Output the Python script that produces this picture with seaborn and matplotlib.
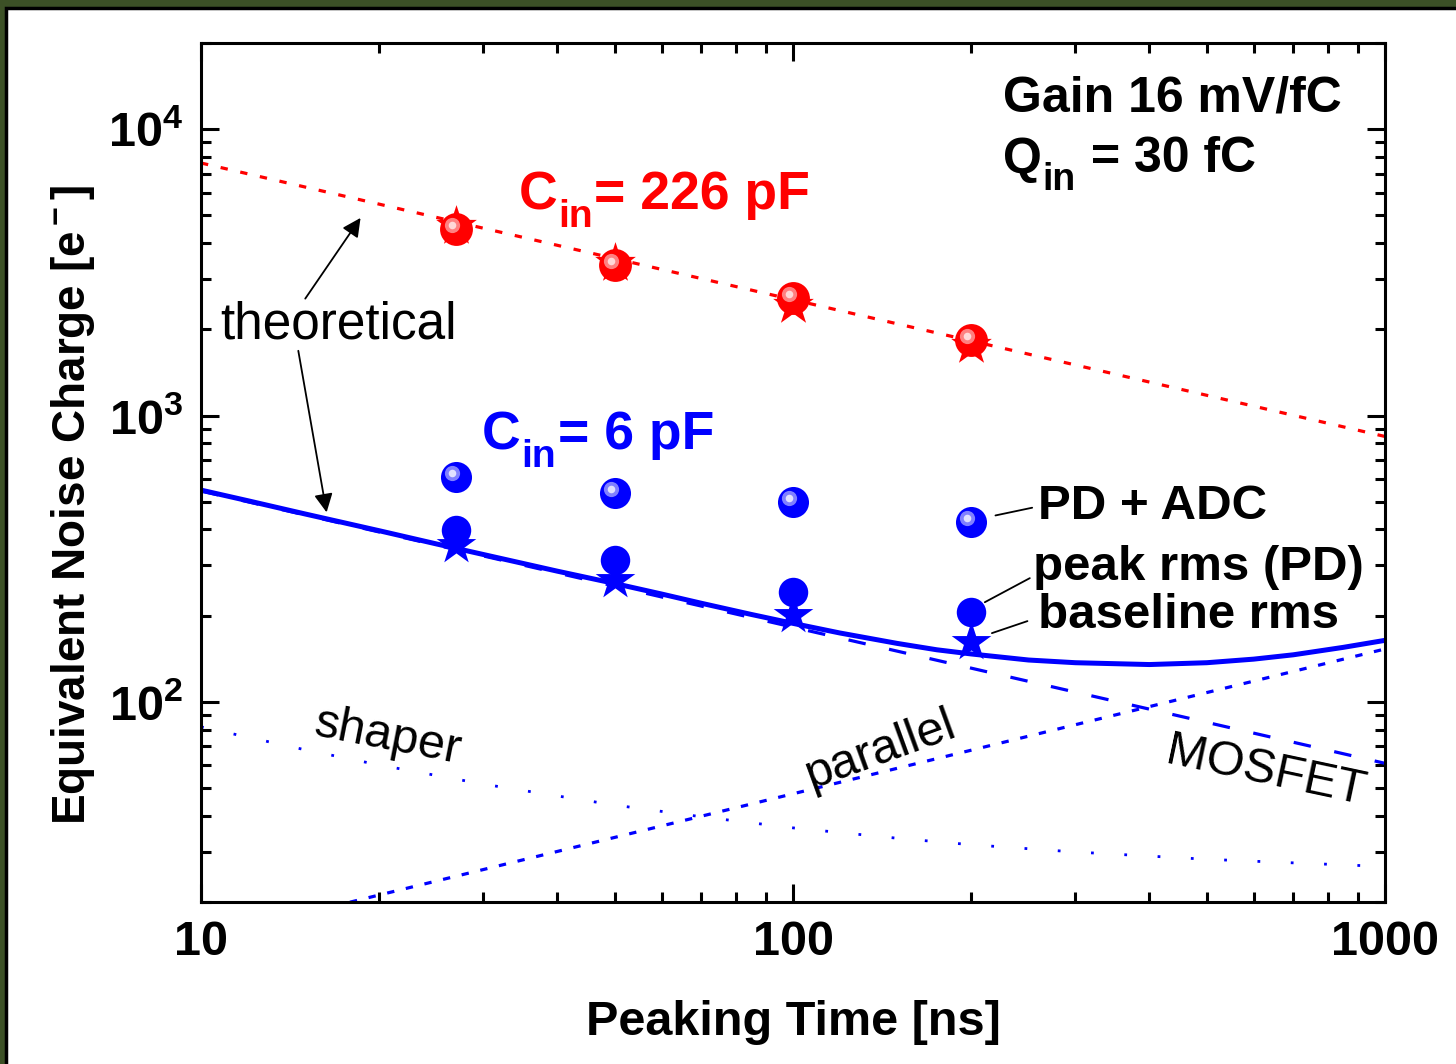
import matplotlib
matplotlib.use('Agg')
import matplotlib.pyplot as plt
import matplotlib.transforms as mtransforms
from matplotlib.patches import Rectangle
from matplotlib.ticker import FixedLocator, FixedFormatter, NullFormatter, LogLocator
import seaborn as sns

# measured points (peaking time in ns, ENC in electrons)
peak_times = [27, 50, 100, 200]

red_peak_rms = [4480, 3360, 2580, 1840]
red_baseline = [4600, 3400, 2440, 1770]

blue_pd_adc = [608, 535, 498, 424]
blue_peak_rms = [397, 312, 242, 206]
blue_baseline = [352, 266, 201, 162]

# theoretical curves
theo_red_t = [10, 1000]
theo_red = [7620, 845]

total_t = [10, 12, 15, 20, 25, 30, 40, 50, 60, 70, 85, 100, 120, 150, 175,
           200, 250, 300, 400, 500, 600, 700, 850, 1000]
theo_total = [549, 504, 453, 396, 356, 327, 286, 259, 238, 221, 202, 188, 174,
              160, 152, 147, 140, 137, 135, 137, 141, 146, 155, 164]

shaper_t = [10, 15, 20, 30, 50, 70, 100, 150, 200, 300, 500, 700, 1000]
theo_shaper = [81.8, 68, 60.2, 51.6, 43.6, 39.7, 36.3, 33.4, 31.7, 29.9, 28.2, 27.4, 26.6]

line_t = [10, 1000]
theo_mosfet = [545, 61]
theo_parallel = [14.9, 153]

x_ticks = [10, 100, 1000]
x_ticklabels = ['10', '100', '1000']
y_ticks = [100, 1000, 10000]
y_ticklabels = [r'$\mathbf{10^2}$', r'$\mathbf{10^3}$', r'$\mathbf{10^4}$']

RED = '#ff0000'
BLUE = '#0000ff'

sns.set_style('ticks')
plt.rcParams['font.family'] = ['Liberation Sans', 'DejaVu Sans']
plt.rcParams['mathtext.fontset'] = 'custom'
plt.rcParams['mathtext.rm'] = 'Liberation Sans'
plt.rcParams['mathtext.bf'] = 'Liberation Sans:bold'
plt.rcParams['mathtext.it'] = 'Liberation Sans:italic'
for key in ['text.color', 'axes.labelcolor', 'xtick.color', 'ytick.color']:
    plt.rcParams[key] = 'black'


def sub_text(ax, x, y, main, sub, rest, color='black', size=36, subsize=27):
    """Bold label with a big, low subscript (like C_in)."""
    t1 = ax.text(x, y, main, transform=ax.transAxes, fontsize=size,
                 fontweight='bold', color=color, va='baseline', ha='left')
    drop = 13  # points below main baseline
    d_main = 0.212 * size
    d_sub = 0.212 * subsize
    t2 = ax.annotate(sub, xy=(1, 0), xycoords=t1,
                     xytext=(1, d_main - drop), textcoords='offset points',
                     fontsize=subsize, fontweight='bold', color=color,
                     va='baseline', ha='left')
    ax.annotate(rest, xy=(1, 0), xycoords=t2,
                xytext=(1, drop + d_sub), textcoords='offset points',
                fontsize=size, fontweight='bold', color=color,
                va='baseline', ha='left')


fig = plt.figure(figsize=(14.56, 10.64), dpi=100)
fig.patch.set_facecolor('#3c5126')
fig.add_artist(Rectangle((6 / 1456, -0.05), 1.1, 1.05 - 8 / 1064,
                         transform=fig.transFigure, facecolor='white',
                         edgecolor='black', lw=2.5, zorder=-10))

ax = fig.add_axes([201 / 1456, 1 - 902 / 1064, 1184 / 1456, 859 / 1064])
ax.set_facecolor('white')
ax.set_xscale('log')
ax.set_yscale('log')
ax.set_xlim(10, 1000)
ax.set_ylim(20, 20000)

# theoretical lines
sns.lineplot(x=theo_red_t, y=theo_red, ax=ax, color=RED, lw=2.3,
             linestyle=(0, (2.3, 4.0)), sort=False, estimator=None)
sns.lineplot(x=shaper_t, y=theo_shaper, ax=ax, color=BLUE, lw=2.0,
             linestyle=(0, (1.0, 11.0)), sort=False, estimator=None)
sns.lineplot(x=line_t, y=theo_parallel, ax=ax, color=BLUE, lw=2.3,
             linestyle=(0, (2.3, 3.7)), sort=False, estimator=None)
sns.lineplot(x=line_t, y=theo_mosfet, ax=ax, color=BLUE, lw=2.3,
             linestyle=(0, (5.5, 7.5)), sort=False, estimator=None)
sns.lineplot(x=total_t, y=theo_total, ax=ax, color=BLUE, lw=3.6,
             sort=False, estimator=None)

# highlight offset for the "sphere" markers
hl = mtransforms.ScaledTranslation(-4 / 100, 4 / 100, fig.dpi_scale_trans)

# red points
sns.scatterplot(x=peak_times, y=red_baseline, ax=ax, marker='*', s=950,
                color=RED, linewidth=0, zorder=4)
sns.scatterplot(x=peak_times, y=red_peak_rms, ax=ax, marker='o', s=560,
                color=RED, linewidth=0, zorder=5)
for sz, c in [(120, '#ff8080'), (30, '#ffd8d8')]:
    ax.scatter(peak_times, red_peak_rms, s=sz, color=c, linewidth=0, zorder=6,
               transform=ax.transData + hl)

# blue points
sns.scatterplot(x=peak_times, y=blue_baseline, ax=ax, marker='*', s=900,
                color=BLUE, linewidth=0, zorder=4)
sns.scatterplot(x=peak_times, y=blue_peak_rms, ax=ax, marker='o', s=450,
                color=BLUE, linewidth=0, zorder=5)
sns.scatterplot(x=peak_times, y=blue_pd_adc, ax=ax, marker='o', s=500,
                color=BLUE, linewidth=0, zorder=5)
for sz, c in [(120, '#8080ff'), (30, '#e0e0ff')]:
    ax.scatter(peak_times, blue_pd_adc, s=sz, color=c, linewidth=0, zorder=6,
               transform=ax.transData + hl)

# axes styling
for sp in ax.spines.values():
    sp.set_linewidth(2.2)
    sp.set_color('black')
ax.xaxis.set_major_locator(FixedLocator(x_ticks))
ax.xaxis.set_major_formatter(FixedFormatter(x_ticklabels))
ax.yaxis.set_major_locator(FixedLocator(y_ticks))
ax.yaxis.set_major_formatter(FixedFormatter(y_ticklabels))
ax.xaxis.set_minor_locator(LogLocator(base=10, subs=range(2, 10), numticks=20))
ax.yaxis.set_minor_locator(LogLocator(base=10, subs=range(2, 10), numticks=20))
ax.xaxis.set_minor_formatter(NullFormatter())
ax.yaxis.set_minor_formatter(NullFormatter())
ax.tick_params(which='both', direction='in', top=True, right=True,
               width=2.2, color='black')
ax.tick_params(which='major', length=13, labelsize=35, pad=13)
ax.tick_params(which='minor', length=7)
for lab in ax.get_xticklabels():
    lab.set_fontweight('bold')

ax.set_xlabel('Peaking Time [ns]', fontsize=35, fontweight='bold')
ax.xaxis.set_label_coords(0.5, -0.114)
ax.set_ylabel(r'Equivalent Noise Charge [e$\mathbf{^-}$]', fontsize=33,
              fontweight='bold')
ax.yaxis.set_label_coords(-0.088, 0.462)

# annotations
ax.text(0.677, 0.935, 'Gain 16 mV/fC', transform=ax.transAxes, fontsize=36,
        fontweight='bold', va='center', ha='left')
sub_text(ax, 0.677, 0.849, 'Q', 'in', ' = 30 fC')
sub_text(ax, 0.268, 0.806, 'C', 'in', '= 226 pF', color=RED, size=38.5, subsize=28)
sub_text(ax, 0.237, 0.527, 'C', 'in', '= 6 pF', color=BLUE, size=38.5, subsize=28)

ax.text(0.016, 0.672, 'theoretical', transform=ax.transAxes, fontsize=37,
        va='center', ha='left')
arrow = dict(arrowstyle='-|>', color='black', lw=1.3, mutation_scale=28,
             shrinkA=0, shrinkB=0)
ax.annotate('', xy=(18.6, 4900), xytext=(15.0, 2560), arrowprops=arrow)
ax.annotate('', xy=(16.3, 459), xytext=(14.6, 1683), arrowprops=arrow)

lbl = dict(transform=ax.transAxes, fontsize=35.5, fontweight='bold',
           va='center', ha='left')
ax.text(0.707, 0.460, 'PD + ADC', **lbl)
ax.text(0.703, 0.389, 'peak rms (PD)', **lbl)
ax.text(0.707, 0.334, 'baseline rms', **lbl)
leader = dict(arrowstyle='-', color='black', lw=1.3, shrinkA=0, shrinkB=0)
ax.annotate('', xy=(0.671, 0.450), xytext=(0.702, 0.459),
            xycoords='axes fraction', arrowprops=leader)
ax.annotate('', xy=(0.662, 0.349), xytext=(0.700, 0.377),
            xycoords='axes fraction', arrowprops=leader)
ax.annotate('', xy=(0.668, 0.313), xytext=(0.698, 0.327),
            xycoords='axes fraction', arrowprops=leader)

ax.text(0.158, 0.192, 'shaper', transform=ax.transAxes, fontsize=35,
        rotation=-11, va='center', ha='center', rotation_mode='anchor')
ax.text(0.574, 0.177, 'parallel', transform=ax.transAxes, fontsize=35,
        rotation=20, va='center', ha='center', rotation_mode='anchor')
ax.text(0.899, 0.151, 'MOSFET', transform=ax.transAxes, fontsize=35,
        rotation=-12, va='center', ha='center', rotation_mode='anchor')

fig.savefig('out.png', dpi=100, facecolor=fig.get_facecolor())
